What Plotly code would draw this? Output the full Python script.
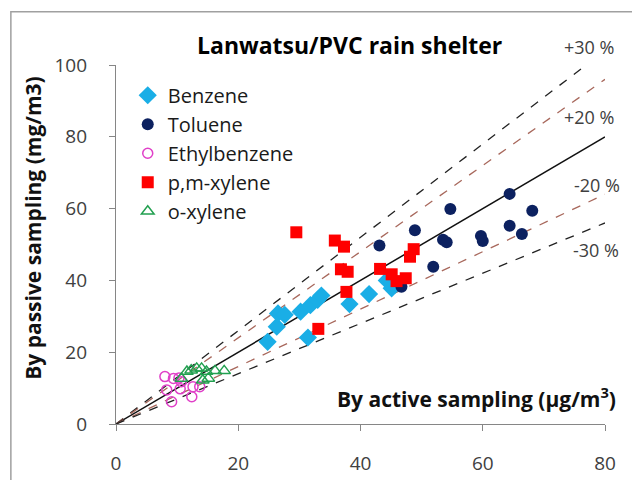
import plotly.graph_objects as go

# ---------------- data ----------------
benzene_x = [24.8, 26.3, 26.5, 27.6, 30.2, 31.8, 33.0, 33.6, 31.4, 38.2, 41.4, 44.3, 45.1]
benzene_y = [22.9, 27.1, 30.8, 30.4, 31.3, 33.1, 34.6, 35.8, 24.1, 33.4, 36.2, 40.0, 37.8]

toluene_x = [64.4, 54.7, 68.1, 48.9, 53.5, 54.1, 59.7, 60.0, 64.4, 66.4, 51.9, 46.7, 43.1]
toluene_y = [64.1, 59.9, 59.4, 54.0, 51.3, 50.6, 52.4, 51.0, 55.2, 52.9, 43.8, 38.2, 49.7]

ethyl_x = [8.0, 9.4, 8.3, 9.1, 10.7, 10.5, 12.4, 12.6, 13.7, 10.3]
ethyl_y = [13.2, 12.7, 9.5, 6.2, 11.8, 9.8, 7.6, 10.4, 10.4, 12.8]

pmx_x = [29.5, 35.8, 37.3, 36.8, 37.9, 37.7, 43.2, 45.1, 45.9, 47.4, 48.1, 48.7, 33.1]
pmx_y = [53.4, 51.1, 49.4, 43.1, 42.4, 36.8, 43.2, 41.7, 39.8, 40.6, 46.6, 48.7, 26.5]

ox_x = [10.7, 11.6, 12.3, 13.2, 14.0, 14.8, 15.1, 16.2, 17.7, 14.2]
ox_y = [12.7, 14.6, 15.0, 15.5, 15.5, 14.6, 12.7, 14.8, 14.8, 12.2]

ratios = [1.3, 1.2, 1.0, 0.8, 0.7]
ratio_labels = ["+30 %", "+20 %", "", "-20 %", "-30 %"]
# label positions in paper fractions of the plot area
ratio_label_px = [0.967, 0.967, None, 0.984, 0.982]
ratio_label_py = [1.049, 0.855, None, 0.666, 0.485]

x_ticks = [0, 20, 40, 60, 80]
y_ticks = [0, 20, 40, 60, 80, 100]

title_text = "Lanwatsu/PVC rain shelter"
x_title = "By active sampling (μg/m<sup>3</sup>)"
y_title = "By passive sampling (mg/m3)"

FONT = "Open Sans"

fig = go.Figure()

# reference lines
line_styles = {
    1.3: dict(color="#222222", dash="dash", width=1.3),
    1.2: dict(color="#a8685c", dash="dash", width=1.3),
    1.0: dict(color="#111111", dash="solid", width=1.5),
    0.8: dict(color="#a8685c", dash="dash", width=1.3),
    0.7: dict(color="#222222", dash="dash", width=1.3),
}
for r in ratios:
    fig.add_trace(go.Scatter(
        x=[0, 80], y=[0, 80 * r], mode="lines",
        line=line_styles[r], showlegend=False, hoverinfo="skip"))

fig.add_trace(go.Scatter(
    x=benzene_x, y=benzene_y, mode="markers", name="Benzene", legendgroup="a",
    marker=dict(symbol="diamond", size=14, color="#1aaee6")))
fig.add_trace(go.Scatter(
    x=toluene_x, y=toluene_y, mode="markers", name="Toluene", legendgroup="b",
    marker=dict(symbol="circle", size=12, color="#0c2160")))
fig.add_trace(go.Scatter(
    x=ethyl_x, y=ethyl_y, mode="markers", name="Ethylbenzene", legendgroup="c",
    marker=dict(symbol="circle-open", size=10, color="#e040c8", line=dict(width=1.5))))
fig.add_trace(go.Scatter(
    x=pmx_x, y=pmx_y, mode="markers", name="p,m-xylene", legendgroup="d",
    marker=dict(symbol="square", size=12, color="#ff0000")))
fig.add_trace(go.Scatter(
    x=ox_x, y=ox_y, mode="markers", name="o-xylene", legendgroup="e",
    marker=dict(symbol="triangle-up-open", size=11, color="#22a050", line=dict(width=1.5))))

annotations = []
for lab, lx, ly in zip(ratio_labels, ratio_label_px, ratio_label_py):
    if lab:
        annotations.append(dict(x=lx, y=ly, xref="paper", yref="paper", text=lab, showarrow=False,
                                xanchor="center", yanchor="middle",
                                font=dict(family=FONT, size=18, color="#404040")))
annotations.append(dict(x=0.478, y=1.056, xref="paper", yref="paper", text="<b>" + title_text + "</b>",
                        showarrow=False, xanchor="center", yanchor="middle",
                        font=dict(family=FONT, size=23, color="#000000")))
annotations.append(dict(x=0.738, y=0.075, xref="paper", yref="paper", text="<b>" + x_title + "</b>",
                        showarrow=False, xanchor="center", yanchor="middle",
                        font=dict(family=FONT, size=21, color="#111111")))
annotations.append(dict(x=-0.17, y=0.546, xref="paper", yref="paper", text="<b>" + y_title + "</b>",
                        textangle=-90, showarrow=False, xanchor="center", yanchor="middle",
                        font=dict(family=FONT, size=21, color="#111111")))

fig.update_layout(
    width=640, height=480,
    margin=dict(l=108, r=43, t=57, b=64),
    paper_bgcolor="white", plot_bgcolor="white",
    font=dict(family=FONT, size=17, color="#404040"),
    showlegend=True,
    legend=dict(x=0.024, y=0.970, xanchor="left", yanchor="top",
                bgcolor="rgba(0,0,0,0)", font=dict(family=FONT, size=20, color="#1a1a1a"),
                itemwidth=30, tracegroupgap=0),
    annotations=annotations,
    shapes=[dict(type="rect", xref="paper", yref="paper", x0=-0.215, x1=1.064, y0=-0.25, y1=1.148,
                 line=dict(color="#a0a0a0", width=1.5), layer="below")],
)
fig.update_xaxes(range=[0, 80], tickvals=x_ticks, showgrid=False, zeroline=False,
                 showline=True, linecolor="#868686", linewidth=1.3,
                 ticks="outside", ticklen=6, tickcolor="#868686", ticklabelstandoff=16,
                 tickfont=dict(family=FONT, size=19, color="#404040"))
fig.update_yaxes(range=[0, 100], tickvals=y_ticks, showgrid=False, zeroline=False,
                 showline=True, linecolor="#868686", linewidth=1.3,
                 ticks="outside", ticklen=6, tickcolor="#868686", ticklabelstandoff=18,
                 tickfont=dict(family=FONT, size=19, color="#404040"))

fig.write_html("out.html")
